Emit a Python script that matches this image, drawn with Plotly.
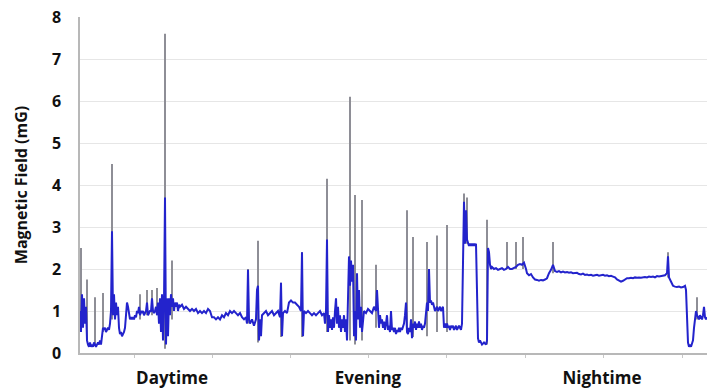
import plotly.graph_objects as go

# ---- data (time in minutes from start of recording, field in mG) ----
day_t = list(range(0, 101)) + [102, 104, 106, 108, 110, 112, 114, 116, 118, 120, 122, 124, 126, 128, 130,
                               132, 134, 136, 138, 140, 142, 144, 146, 148, 150, 152, 154, 156, 158, 160,
                               162, 164, 166, 167, 168, 169, 170]
day_v = [1.0, 0.5, 1.4, 0.6, 1.3, 0.7, 1.1, 0.3, 0.2, 0.15, 0.25, 0.15, 0.2, 0.15, 0.25, 0.2, 0.15, 0.2, 0.25, 0.2,
         0.3, 0.2, 0.5, 0.6, 0.55, 0.6, 0.5, 0.55, 0.6, 0.55, 0.7, 1.0, 2.9, 0.9, 1.4, 0.8, 1.2, 0.9, 1.1, 0.6,
         0.45, 0.5, 0.4, 0.45, 0.5, 0.6, 0.9, 1.2, 1.1, 0.9, 0.8, 0.85, 0.8, 0.85, 0.8, 0.9, 0.85, 1.0, 0.95, 1.1,
         0.9, 1.0, 0.95, 1.0, 0.9, 0.95, 1.0, 1.2, 0.9, 0.95, 1.0, 1.0, 1.3, 1.0, 0.95, 1.0, 1.1, 0.9, 1.2, 0.7,
         1.3, 0.5, 1.4, 0.3, 1.2, 3.7, 0.2, 1.3, 0.4, 1.3, 0.9, 1.4, 1.1, 1.3, 1.0, 1.2, 1.1, 1.2, 1.0, 1.15, 1.1,
         1.15, 1.05, 1.1, 1.05, 1.0, 1.05, 1.0, 1.05, 0.95, 1.0, 0.95, 1.0, 0.95, 1.05, 1.0,
         0.85, 0.85, 0.8, 0.85, 0.8, 0.9, 0.85, 0.95, 0.9, 1.0, 0.95, 1.0, 0.95, 0.9, 0.95,
         0.85, 0.8, 0.85, 0.7, 1.98, 0.8, 0.7]

eve_t = [172, 174, 176, 177, 178, 179, 180, 181, 182, 184, 186, 188, 190, 192, 194, 196, 198, 200, 201, 202,
         203, 205, 207, 209, 211, 213, 215, 217, 219, 221, 222, 223, 224, 226, 228, 230, 232, 234, 236, 238,
         240, 242, 244, 245, 246, 247, 248] + list(range(249, 284)) + [284, 286, 288, 290, 292, 294, 296] \
        + list(range(297, 401))
eve_v = [0.8, 0.65, 0.8, 1.5, 1.6, 0.3, 0.8, 0.4, 0.9, 0.95, 1.0, 0.9, 0.95, 1.0, 0.9, 0.95, 1.0, 0.85, 1.67, 0.4,
         0.95, 1.0, 0.95, 1.2, 1.25, 1.2, 1.2, 1.15, 1.1, 1.0, 2.4, 0.4, 1.0, 0.95, 1.0, 0.95, 0.9, 0.95, 0.9, 0.95,
         1.0, 0.9, 0.95, 0.7, 1.0, 2.7, 0.5,
         0.9, 0.6, 0.8, 0.55, 0.85, 0.6, 1.0, 1.3, 0.7, 1.1, 0.6, 0.9, 0.5, 0.8, 0.6, 0.9, 0.5, 0.8, 0.3, 1.8,
         2.3, 1.6, 2.2, 1.7, 2.1, 0.4, 1.0, 0.3, 1.9, 0.8, 1.5, 0.6, 1.1, 0.5, 0.9,
         1.0, 0.95, 1.05, 1.0, 0.95, 1.1, 1.0,
         1.5, 1.0, 0.6, 0.9, 0.7, 0.8, 0.6, 0.75, 0.55, 0.7, 0.9, 0.55, 0.65, 0.5, 1.0, 0.55, 0.6, 0.5, 0.6, 0.45,
         0.55, 0.5, 0.6, 0.5, 0.6, 0.55, 0.65, 0.7, 0.9, 1.2, 0.5, 0.45, 0.6, 0.5, 0.8, 0.35, 0.7, 0.6, 0.75, 0.55,
         0.7, 0.6, 0.75, 0.6, 0.7, 0.55, 0.65, 0.6, 0.7, 0.9, 1.2, 1.0, 2.0, 1.2, 1.25, 1.15, 1.2, 1.1, 1.0, 1.05,
         1.1, 1.0, 1.05, 1.1, 1.0, 1.05, 1.1, 0.6, 0.7, 0.6, 0.7, 0.6, 0.65, 0.55, 0.65, 0.6, 0.65, 0.55, 0.6, 0.65,
         0.55, 0.6, 0.65, 0.6, 0.55, 0.7, 2.8, 3.6, 2.6, 3.4, 2.7, 2.6, 2.55, 2.6, 2.55, 2.6, 2.55, 2.6, 2.55, 2.6,
         1.2, 0.35, 0.25, 0.3]

night_t = [402, 404, 406, 407, 408, 409, 410, 411] + list(range(412, 447, 2)) + list(range(447, 588, 2)) \
          + [588] + list(range(589, 606, 2)) + list(range(606, 628))
night_v = [0.2, 0.25, 0.2, 0.3, 2.5, 2.4, 2.1, 2.0,
           2.05, 2.0, 2.02, 1.98, 2.0, 2.02, 1.98, 2.0, 2.05, 2.0, 2.0, 2.02, 2.05, 2.1, 2.12, 2.1, 2.15, 2.0,
           1.9, 1.85, 1.88, 1.8, 1.75, 1.74, 1.72, 1.74, 1.73, 1.75, 1.78, 1.9, 1.98, 2.1, 1.95, 1.93, 1.95, 1.92,
           1.94, 1.92, 1.93, 1.91, 1.92, 1.9, 1.9, 1.91, 1.88, 1.87, 1.89, 1.86, 1.87, 1.85, 1.86, 1.84, 1.85, 1.86,
           1.84, 1.85, 1.86, 1.84, 1.85, 1.83, 1.84, 1.82, 1.8, 1.75, 1.72, 1.7, 1.72, 1.75, 1.78, 1.78, 1.79, 1.78,
           1.8, 1.79, 1.8, 1.79, 1.8, 1.81, 1.8, 1.82, 1.81, 1.82, 1.8, 1.83, 1.82, 1.83, 1.84, 1.85, 1.9,
           2.3,
           1.8, 1.7, 1.6, 1.58, 1.57, 1.58, 1.56, 1.57, 1.6,
           1.5, 0.5, 0.25, 0.15, 0.2, 0.15, 0.25, 0.3, 0.6, 0.85, 1.0, 0.9, 0.85, 0.8, 0.9, 0.85, 0.8, 0.9, 1.1,
           0.85, 0.8, 0.85]

# peak (maximum) readings, drawn in grey behind the averaged trace
peak_t = [1, 7, 15, 23, 32, 60, 67, 72, 77, 85, 92, 168, 178, 201, 222, 247, 270, 275, 282, 296,
          327, 333, 347, 357, 367, 384, 387, 407, 427, 436, 443, 473, 588, 617]
peak_lo = [0.8, 0.3, 0.2, 0.5, 0.8, 0.8, 0.9, 0.9, 0.9, 0.1, 0.8, 0.7, 0.25, 0.38, 0.38, 0.5, 0.3, 0.2, 0.3, 0.6,
           0.5, 0.38, 0.4, 0.5, 0.5, 2.6, 2.6, 0.2, 2.0, 2.0, 2.0, 1.9, 1.8, 0.8]
peak_hi = [2.5, 1.75, 1.33, 1.43, 4.5, 1.4, 1.5, 1.5, 1.55, 7.6, 2.2, 2.0, 2.67, 1.67, 2.4, 4.15, 6.1, 3.76, 3.64,
           2.1, 3.4, 2.76, 2.64, 2.8, 3.05, 3.8, 3.7, 3.17, 2.64, 2.64, 2.76, 2.64, 2.4, 1.33]

period_labels = ["Daytime", "Evening", "Nightime"]
period_centers = [92, 288, 522]
y_ticks = [0, 1, 2, 3, 4, 5, 6, 7, 8]

# ---- build figure ----
t_all = day_t + eve_t + night_t
v_all = day_v + eve_v + night_v

gx, gy = [], []
for t, lo, hi in zip(peak_t, peak_lo, peak_hi):
    gx += [t, t, None]
    gy += [lo, hi, None]

fig = go.Figure()
fig.add_trace(go.Scatter(x=gx, y=gy, mode="lines", line=dict(color="#8e8e96", width=2),
                         hoverinfo="skip", showlegend=False))
fig.add_trace(go.Scatter(x=t_all, y=v_all, mode="lines", line=dict(color="#2323cc", width=2),
                         showlegend=False))

FAM = "'Open Sans', Lato, sans-serif"
xfont = dict(family=FAM, size=17, color="#111111", weight=700)
yfont = dict(family=FAM, size=16, color="#111111", weight=700)

fig.update_layout(
    width=707, height=390,
    margin=dict(l=80, r=0, t=17, b=37),
    paper_bgcolor="white", plot_bgcolor="white",
    font=xfont,
    xaxis=dict(range=[0, 627], tickvals=period_centers, ticktext=period_labels,
               showgrid=False, zeroline=False, showline=True, linecolor="#b8b8b8", linewidth=1.5,
               ticks="", ticklabelstandoff=9, tickfont=xfont,
               minor=dict(tickvals=[54, 132, 210, 288, 366, 445, 523, 602], ticks="outside",
                          ticklen=3, tickcolor="#c8c8c8", showgrid=False)),
    yaxis=dict(range=[0, 8], tickvals=y_ticks, showgrid=True, gridcolor="#e6e6e6", gridwidth=1,
               zeroline=False, showline=True, linecolor="#b8b8b8", linewidth=1.5, ticks="",
               ticklabelstandoff=14, tickfont=yfont,
               title=dict(text="Magnetic Field (mG)", font=dict(family=FAM, size=16, color="#111111",
                                                                 weight=700),
                          standoff=20)),
)

fig.write_html("out.html")
